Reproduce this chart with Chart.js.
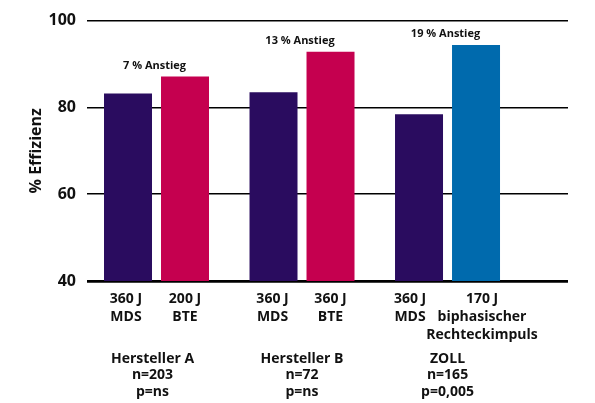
<!DOCTYPE html>
<html>
<head>
<meta charset="utf-8">
<script src="https://cdn.jsdelivr.net/npm/chart.js@4/dist/chart.umd.min.js"></script>
<style>
  html, body { margin: 0; padding: 0; background: #fff; }
  #wrap { width: 595px; height: 403px; }
</style>
</head>
<body>
<div id="wrap"><canvas id="c" width="595" height="403"></canvas></div>
<script>
// Groups (manufacturers) with study size and significance
const groups = ['Hersteller A', 'Hersteller B', 'ZOLL'];
const groupNotes = [
  ['Hersteller A', 'n=203', 'p=ns'],
  ['Hersteller B', 'n=72', 'p=ns'],
  ['ZOLL', 'n=165', 'p=0,005']
];
const increaseLabels = ['7 % Anstieg', '13 % Anstieg', '19 % Anstieg'];

// Monophasic reference shocks (360 J MDS)
const mdsLabels = [['360 J', 'MDS'], ['360 J', 'MDS'], ['360 J', 'MDS']];
const mdsValues = [83.2, 83.5, 78.4];

// Comparison shocks
const cmpLabels = [['200 J', 'BTE'], ['360 J', 'BTE'], ['170 J', 'biphasischer', 'Rechteckimpuls']];
const cmpValues = [87.1, 92.8, 94.4];

const yTicks = [40, 60, 80, 100];

const PURPLE = '#2a0c5f';
const RED = '#c5004f';
const BLUE = '#006aad';
const INK = '#111111';
const FONT = '"Open Sans", sans-serif';

// horizontal nudges (px) for the labels under the bars, so long texts do not collide
const mdsLabelShift = [-2, -1, -9];
const cmpLabelShift = [0, 0, 6];
const noteShift = [-4, 0, 0];

const textPlugin = {
  id: 'barTexts',
  afterDatasetsDraw(chart) {
    const { ctx, chartArea, scales } = chart;
    const metaA = chart.getDatasetMeta(0);
    const metaB = chart.getDatasetMeta(1);
    ctx.save();
    ctx.fillStyle = INK;
    ctx.textAlign = 'center';
    ctx.textBaseline = 'middle';

    // labels under each bar
    ctx.font = 'bold 14px ' + FONT;
    const drawLines = (lines, x) => {
      lines.forEach((t, i) => ctx.fillText(t, x, chartArea.bottom + 18 + i * 18));
    };
    metaA.data.forEach((bar, i) => drawLines(mdsLabels[i], bar.x + mdsLabelShift[i]));
    metaB.data.forEach((bar, i) => drawLines(cmpLabels[i], bar.x + cmpLabelShift[i]));

    // group notes
    groups.forEach((g, i) => {
      const x = scales.x.getPixelForValue(i) + noteShift[i];
      groupNotes[i].forEach((t, k) => ctx.fillText(t, x, chartArea.bottom + 78 + k * 16.5));
    });

    // increase annotations above each pair
    ctx.font = 'bold 11px ' + FONT;
    groups.forEach((g, i) => {
      const x = scales.x.getPixelForValue(i);
      const top = Math.min(metaA.data[i].y, metaB.data[i].y);
      ctx.fillText(increaseLabels[i], x - 2, top - 11);
    });
    ctx.restore();
  }
};

new Chart(document.getElementById('c'), {
  type: 'bar',
  data: {
    datasets: [
      {
        label: '360 J MDS',
        data: mdsValues.map((v, i) => ({ x: i, y: v })),
        backgroundColor: PURPLE
      },
      {
        label: 'Vergleich',
        data: cmpValues.map((v, i) => ({ x: i, y: v })),
        backgroundColor: [RED, RED, BLUE]
      }
    ]
  },
  options: {
    responsive: false,
    animation: false,
    events: [],
    layout: { padding: { top: 19, right: 27, bottom: 122, left: 0 } },
    categoryPercentage: 0.7835,
    barPercentage: 0.842,
    plugins: { legend: { display: false }, tooltip: { enabled: false } },
    scales: {
      x: {
        type: 'linear',
        min: -0.4777,
        max: 2.828,
        offset: false,
        display: false,
        afterBuildTicks(scale) { scale.ticks = groups.map((g, i) => ({ value: i })); },
        grid: { display: false }
      },
      y: {
        min: 40,
        max: 100,
        afterBuildTicks(scale) { scale.ticks = yTicks.map(v => ({ value: v })); },
        afterFit(scale) { scale.width = 87; },
        border: { display: false },
        grid: {
          color: '#000',
          lineWidth: c => (c.tick && c.tick.value === 40 ? 2.8 : 1.6),
          drawTicks: false
        },
        ticks: {
          padding: 11,
          color: INK,
          font: { family: FONT, weight: 'bold', size: 16 }
        },
        title: {
          display: true,
          text: '% Effizienz',
          color: INK,
          font: { family: FONT, weight: 'bold', size: 16 },
          padding: { top: 27, bottom: 0 }
        }
      }
    }
  },
  plugins: [textPlugin]
});
</script>
</body>
</html>
